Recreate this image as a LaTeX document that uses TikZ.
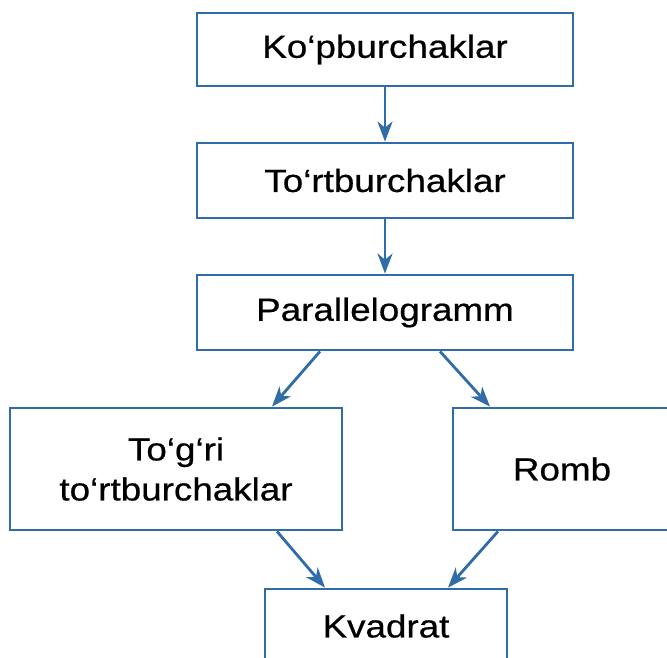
\documentclass[tikz,border=0pt]{standalone}
\usepackage{fontspec}
\setmainfont{Liberation Sans}[FakeStretch=1.15,FakeBold=0.6]
\usetikzlibrary{arrows.meta}
\definecolor{boxblue}{HTML}{2F6CA8}
\tikzset{
  box/.style={draw=boxblue, line width=2.8pt, rectangle, inner sep=0pt, align=center,
    font=\fontsize{32}{40}\selectfont, text=black},
  conn/.style={draw=boxblue, line width=2.8pt, -{Stealth[length=20pt,width=15pt,inset=6pt]}}
}
\begin{document}
\begin{tikzpicture}[x=1pt,y=-1pt]
\useasboundingbox (0,0) rectangle (667,658);
\clip (0,0) rectangle (667,658);
\fill[white] (0,0) rectangle (667,658);
\node[box, minimum width=376pt, minimum height=73pt] (k) at (385,49.5) {Ko‘pburchaklar};
\node[box, minimum width=376pt, minimum height=75pt] (t) at (385,180.5) {To‘rtburchaklar};
\node[box, minimum width=376pt, minimum height=75pt] (p) at (385,312.5) {Parallelogramm};
\node[box, minimum width=332pt, minimum height=122pt] (tt) at (176,469) {To‘g‘ri\\to‘rtburchaklar};
\node[box, minimum width=218pt, minimum height=122pt] (r) at (562,469) {Romb};
\node[box, minimum width=242pt, minimum height=74pt] (kv) at (386,626) {Kvadrat};
\draw[conn] (k.south) -- (t.north);
\draw[conn] (t.south) -- (p.north);
\draw[conn] ([xshift=-65pt]p.south) -- ([xshift=96pt]tt.north);
\draw[conn] ([xshift=55pt]p.south) -- ([xshift=-72pt]r.north);
\draw[conn] ([xshift=101pt]tt.south) -- ([xshift=-61pt]kv.north);
\draw[conn] ([xshift=-64pt]r.south) -- ([xshift=62pt]kv.north);
\end{tikzpicture}
\end{document}
